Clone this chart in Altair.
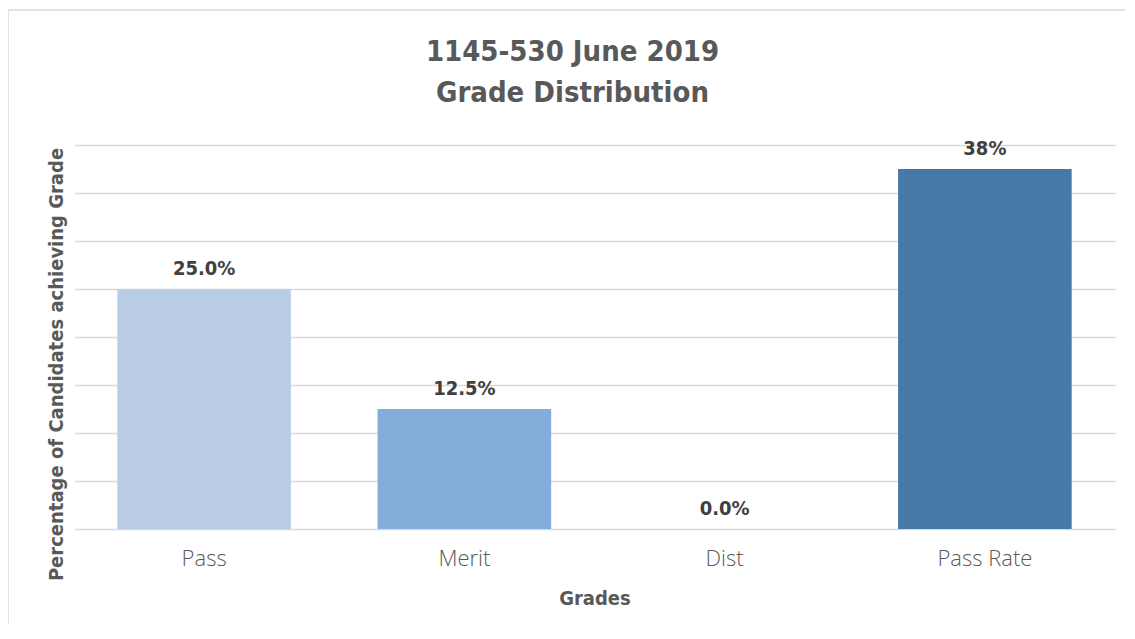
import altair as alt
import pandas as pd

categories = ["Pass", "Merit", "Dist", "Pass Rate"]
values = [25.0, 12.5, 0.0, 37.5]
labels = ["25.0%", "12.5%", "0.0%", "38%"]
colors = ["#B9CDE6", "#84ADDB", "#A9C4E4", "#4678A8"]
grid_ticks = [0, 5, 10, 15, 20, 25, 30, 35, 40]

df = pd.DataFrame({"cat": categories, "val": values, "lab": labels})

BOLD = "Liberation Sans Narrow, DejaVu Sans Condensed, DejaVu Sans, sans-serif"
LIGHT = "Open Sans, Lato, sans-serif"

x = alt.X("cat:N", sort=categories,
          scale=alt.Scale(paddingInner=0.333, paddingOuter=0.1665),
          axis=alt.Axis(title="Grades", labelAngle=0, labelFont=LIGHT, labelFontSize=22,
                        labelFontWeight=300,
                        labelColor="#595959", labelPadding=19, ticks=False, domain=False,
                        titleFont=BOLD, titleFontSize=20, titleFontWeight="bold",
                        titleColor="#595959", titleY=69, titleBaseline="middle", grid=False))
y = alt.Y("val:Q", scale=alt.Scale(domain=[0, 40], nice=False),
          axis=alt.Axis(title="Percentage of Candidates achieving Grade", values=grid_ticks,
                        labels=False, ticks=False, domain=False, grid=True,
                        gridColor="#D9D9D9", gridWidth=1.5,
                        titleFont=BOLD, titleFontSize=20, titleFontWeight="bold",
                        titleColor="#595959", titleAngle=-90, titleAlign="center",
                        titleBaseline="middle", titleX=-18, titleY=219))

bars = alt.Chart(df).mark_bar().encode(
    x=x, y=y,
    color=alt.Color("cat:N", scale=alt.Scale(domain=categories, range=colors), legend=None),
)

text = alt.Chart(df).mark_text(font=BOLD, fontSize=20, fontWeight="bold", color="#404040",
                                baseline="bottom", dy=-10).encode(
    x=alt.X("cat:N", sort=categories), y=alt.Y("val:Q"), text="lab:N")

frame = alt.Chart(pd.DataFrame({"k": [0]})).mark_rect(
    fill=None, stroke="#D9D9D9", strokeWidth=1.5, clip=False).encode(
    x=alt.value(-66), x2=alt.value(1075), y=alt.value(-135), y2=alt.value(520))

chart = alt.layer(frame, bars, text).properties(
    width=1041, height=384,
    title=alt.TitleParams(["1145-530 June 2019", "Grade Distribution"], font=BOLD,
                          fontSize=29, fontWeight="bold", color="#595959", anchor="middle",
                          frame="group", dx=-22, offset=-99, lineHeight=41),
    autosize=alt.AutoSizeParams(type="none"),
    padding={"left": 66, "top": 137, "right": 10, "bottom": 95},
).configure(background="white").configure_view(strokeWidth=0)

chart.save("out.html", embed_options={"renderer": "svg", "actions": False})
